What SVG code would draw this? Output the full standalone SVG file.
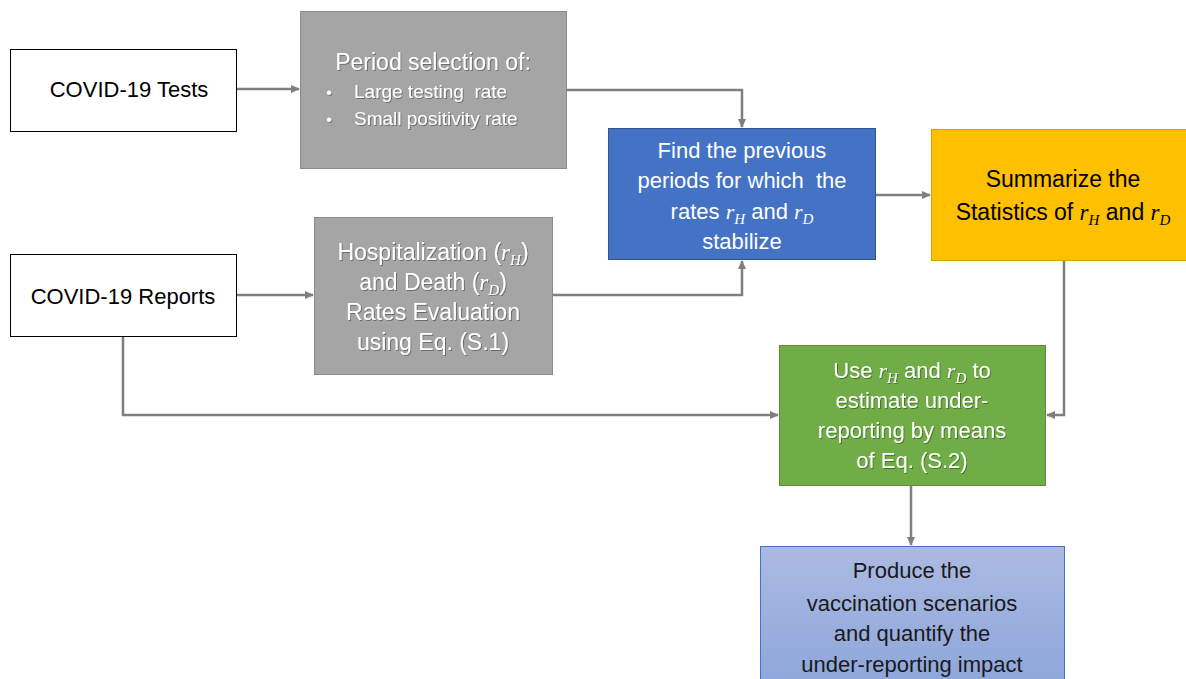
<svg xmlns="http://www.w3.org/2000/svg" width="1186" height="679" viewBox="0 0 1186 679">
<defs>
<marker id="arr" markerWidth="10" markerHeight="10" refX="8" refY="5" orient="auto" markerUnits="userSpaceOnUse">
<path d="M0,1 L9,5 L0,9 z" fill="#7F7F7F"/>
</marker>
<linearGradient id="pg" x1="0" y1="0" x2="0" y2="1">
<stop offset="0" stop-color="#ABBAE2"/>
<stop offset="1" stop-color="#8EA6DB"/>
</linearGradient>
<filter id="sh" x="-5%" y="-5%" width="110%" height="120%">
<feDropShadow dx="1" dy="1" stdDeviation="0.6" flood-color="#000" flood-opacity="0.35"/>
</filter>
</defs>
<style>
text{font-family:"Liberation Sans",Arial,sans-serif;font-size:22px;text-anchor:middle}
.w{fill:#FFFFFF}
.k{fill:#000000}
.d{fill:#1A1A1A}
.m{font-family:"Liberation Serif","Times New Roman",serif;font-style:italic}
.s{font-size:15px}
.conn{fill:none;stroke:#7F7F7F;stroke-width:2.5}
</style>
<rect width="1186" height="679" fill="#FFFFFF"/>

<g id="tests">
<rect x="10.5" y="49.5" width="226" height="82" fill="#FFFFFF" stroke="#000000" stroke-width="1"/>
<text class="k" x="129" y="97">COVID-19 Tests</text>
</g>

<g id="reports">
<rect x="10.5" y="254.5" width="226" height="82" fill="#FFFFFF" stroke="#000000" stroke-width="1"/>
<text class="k" x="123" y="304">COVID-19 Reports</text>
</g>

<g id="period">
<rect x="300.5" y="11.5" width="266" height="157" fill="#A5A5A5" stroke="#8C8C8C" stroke-width="1"/>
<g filter="url(#sh)">
<text class="w" x="433" y="70" style="font-size:23px">Period selection of:</text>
<text class="w" x="329" y="98" style="font-size:16px">•</text>
<text class="w" x="354" y="98" style="font-size:19px;text-anchor:start" xml:space="preserve">Large testing  rate</text>
<text class="w" x="329" y="125" style="font-size:16px">•</text>
<text class="w" x="354" y="125" style="font-size:19px;text-anchor:start">Small positivity rate</text>
</g>
</g>

<g id="hosp">
<rect x="314.5" y="217.5" width="238" height="157" fill="#A5A5A5" stroke="#8C8C8C" stroke-width="1"/>
<g filter="url(#sh)" style="font-size:23px">
<text class="w" x="433" y="260" style="font-size:23px">Hospitalization (<tspan class="m">r</tspan><tspan class="m s" dy="5">H</tspan><tspan dy="-5">)</tspan></text>
<text class="w" x="433" y="290" style="font-size:23px">and Death (<tspan class="m">r</tspan><tspan class="m s" dy="5">D</tspan><tspan dy="-5">)</tspan></text>
<text class="w" x="433" y="320" style="font-size:23px">Rates Evaluation</text>
<text class="w" x="433" y="350" style="font-size:23px">using Eq. (S.1)</text>
</g>
</g>

<g id="find">
<rect x="608.5" y="128.5" width="267" height="131" fill="#4472C4" stroke="#2F5597" stroke-width="1"/>
<text class="w" x="742" y="158">Find the previous</text>
<text class="w" x="742" y="188" xml:space="preserve">periods for which  the</text>
<text class="w" x="742" y="219">rates <tspan class="m">r</tspan><tspan class="m s" dy="5">H</tspan><tspan dy="-5"> and </tspan><tspan class="m">r</tspan><tspan class="m s" dy="5">D</tspan></text>
<text class="w" x="742" y="249">stabilize</text>
</g>

<g id="summ">
<rect x="931.5" y="129.5" width="260" height="131" fill="#FFC000" stroke="#D6A300" stroke-width="1"/>
<text class="k" x="1063" y="187" style="font-size:23px">Summarize the</text>
<text class="k" x="1063" y="220" style="font-size:23px">Statistics of <tspan class="m">r</tspan><tspan class="m s" dy="5">H</tspan><tspan dy="-5"> and </tspan><tspan class="m">r</tspan><tspan class="m s" dy="5">D</tspan></text>
</g>

<g id="use">
<rect x="779.5" y="345.5" width="266" height="140" fill="#70AD47" stroke="#5B8F39" stroke-width="1"/>
<g filter="url(#sh)">
<text class="w" x="912" y="378">Use <tspan class="m">r</tspan><tspan class="m s" dy="5">H</tspan><tspan dy="-5"> and </tspan><tspan class="m">r</tspan><tspan class="m s" dy="5">D</tspan><tspan dy="-5"> to</tspan></text>
<text class="w" x="912" y="408">estimate under-</text>
<text class="w" x="912" y="438">reporting by means</text>
<text class="w" x="912" y="468">of Eq. (S.2)</text>
</g>
</g>

<g id="produce">
<rect x="760.5" y="546.5" width="304" height="140" fill="url(#pg)" stroke="#4472C4" stroke-width="1"/>
<text class="d" x="912" y="578">Produce the</text>
<text class="d" x="912" y="611">vaccination scenarios</text>
<text class="d" x="912" y="641">and quantify the</text>
<text class="d" x="912" y="672">under-reporting impact</text>
</g>

<g id="connectors">
<path class="conn" d="M237,89 H299" marker-end="url(#arr)"/>
<path class="conn" d="M566,90 H742 V127" marker-end="url(#arr)"/>
<path class="conn" d="M237,295 H313" marker-end="url(#arr)"/>
<path class="conn" d="M552,295 H742 V261" marker-end="url(#arr)"/>
<path class="conn" d="M876,195 H930" marker-end="url(#arr)"/>
<path class="conn" d="M1064,261 V415 H1047" marker-end="url(#arr)"/>
<path class="conn" d="M123,337 V415 H778" marker-end="url(#arr)"/>
<path class="conn" d="M911,486 V545" marker-end="url(#arr)"/>
</g>
</svg>
